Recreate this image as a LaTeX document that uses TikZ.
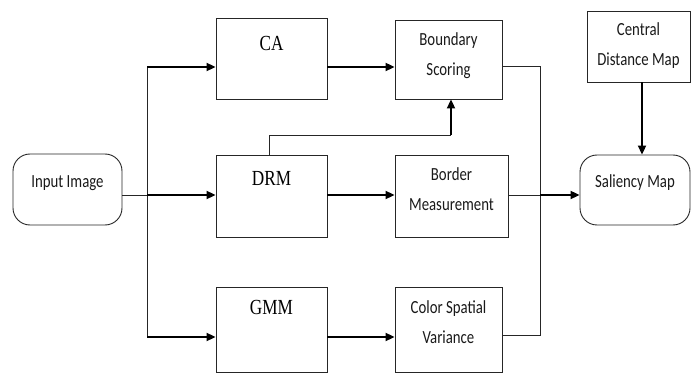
\documentclass[tikz,border=0pt]{standalone}
\usepackage{fontspec}
\setmainfont{Carlito}[FakeStretch=0.8]
\newfontfamily\serifsq{Liberation Serif}[FakeStretch=0.8]
\usetikzlibrary{arrows.meta}
\tikzset{
  box/.style={draw=black!85, line width=0.9pt, minimum width=#1, inner sep=0pt},
  rbox/.style={draw=black!85, line width=0.9pt, rounded corners=17pt, inner sep=0pt},
  lbl/.style={font=\fontsize{18.5}{30}\selectfont, align=center, text=black!90},
  big/.style={font=\serifsq\fontsize{21.5}{24}\selectfont, text=black},
  thin/.style={line width=0.9pt, draw=black!85},
  thk/.style={line width=2pt, draw=black},
  arr/.style={-{Triangle[length=9pt,width=8pt]}},
}
\begin{document}
\begin{tikzpicture}[x=1pt,y=-1pt]
\useasboundingbox (0,0) rectangle (691,374);
% nodes
\node[rbox, minimum width=109pt, minimum height=71pt] (inp) at (67.5,189.5) {};
\node[lbl] (inpt) at (67.5,183) {Input Image};
\node[box=111pt, minimum height=81pt] (ca) at (271.5,58.5) {};
\node[big] (cat) at (271.5,43) {CA};
\node[box=111pt, minimum height=82pt] (drm) at (271.5,196) {};
\node[big] (drmt) at (271.5,178) {DRM};
\node[box=111pt, minimum height=85pt] (gmm) at (271.5,329.5) {};
\node[big] (gmmt) at (271.5,307) {GMM};
\node[box=107pt, minimum height=79pt] (bs) at (448.5,59.5) {};
\node[lbl] (bst) at (448.5,56) {Boundary\\Scoring};
\node[box=113pt, minimum height=82pt] (bm) at (451.5,196) {};
\node[lbl] (bmt) at (451.5,189.5) {Border\\Measurement};
\node[box=107pt, minimum height=85pt] (csv) at (448.5,329.5) {};
\node[lbl] (csvt) at (448.5,322.5) {Color Spatial\\Variance};
\node[rbox, minimum width=110pt, minimum height=70pt] (sal) at (635,190) {};
\node[lbl] (salt) at (635,183) {Saliency Map};
\node[box=103pt, minimum height=71pt] (cdm) at (638.5,46.5) {};
\node[lbl] (cdmt) at (638.5,46) {Central\\Distance Map};
% coordinates
\coordinate (b0) at (147,195);
\coordinate (b1) at (147,67);
\coordinate (b2) at (147,337);
\coordinate (d1) at (269,135);
\coordinate (d2) at (451,135);
\coordinate (r1) at (540,66);
\coordinate (r2) at (540,195);
\coordinate (r3) at (540,335);
% connectors
\draw[thin] (inp.east |- b0) -- (b0);
\draw[thin] (b1) -- (b2);
\draw[thk, arr] (b0) -- (drm.west |- b0);
\draw[thk, arr] (b1) -- (ca.west |- b1);
\draw[thk, arr] (b2) -- (gmm.west |- b2);
\draw[thk, arr] (ca.east |- b1) -- (bs.west |- b1);
\draw[thk, arr] (drm.east |- b0) -- (bm.west |- b0);
\draw[thk, arr] (gmm.east |- b2) -- (csv.west |- b2);
\draw[thin] (drm.north -| d1) -- (d1) -- (d2);
\draw[thk, arr] (d2) -- (bs.south -| d2);
\draw[thin] (bs.east |- r1) -- (r1) -- (r3) -- (csv.east |- r3);
\draw[thin] (bm.east |- r2) -- (r2);
\draw[thk, arr] (r2) -- (sal.west |- r2);
\draw[thk, arr] (cdm.south -| 642,0) -- (sal.north -| 642,0);
\end{tikzpicture}
\end{document}
